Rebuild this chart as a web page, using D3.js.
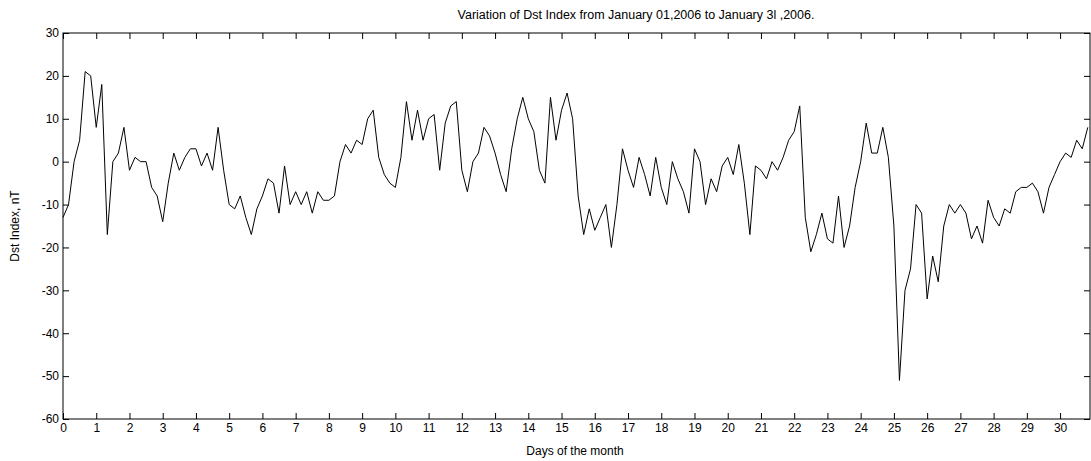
<!DOCTYPE html>
<html><head><meta charset="utf-8">
<script src="https://cdn.jsdelivr.net/npm/d3@7"></script>
<style>
body{margin:0;background:#fff;}
text{font-family:"Liberation Sans",Arial,sans-serif;font-size:11px;fill:#000;}
</style></head>
<body><div id="chart"></div>
<script>
// Dst index, 4-hourly samples (6 per day)
var dst = [
 -13,-10,0,5,21,20,
 8,18,-17,0,2,8,
 -2,1,0,0,-6,-8,
 -14,-5,2,-2,1,3,
 3,-1,2,-2,8,-2,
 -10,-11,-8,-13,-17,-11,
 -8,-4,-5,-12,-1,-10,
 -7,-10,-7,-12,-7,-9,
 -9,-8,0,4,2,5,
 4,10,12,1,-3,-5,
 -6,1,14,5,12,5,
 10,11,-2,9,13,14,
 -2,-7,0,2,8,6,
 2,-3,-7,3,10,15,
 10,7,-2,-5,15,5,
 12,16,10,-8,-17,-11,
 -16,-13,-10,-20,-10,3,
 -2,-6,1,-3,-8,1,
 -6,-10,0,-4,-7,-12,
 3,0,-10,-4,-7,-1,
 1,-3,4,-5,-17,-1,
 -2,-4,0,-2,1,5,
 7,13,-13,-21,-17,-12,
 -18,-19,-8,-20,-15,-6,
 0,9,2,2,8,1,
 -15,-51,-30,-25,-10,-12,
 -32,-22,-28,-15,-10,-12,
 -10,-12,-18,-15,-19,-9,
 -13,-15,-11,-12,-7,-6,
 -6,-5,-7,-12,-6,-3,
 0,2,1,5,3,8
];
var samplesPerDay = 6;
var xTicks = d3.range(0, 31);
var yTicks = d3.range(-60, 31, 10);
var title = "Variation of Dst Index from January 01,2006 to January 3l ,2006.";

var W = 1091, H = 461;
var m = {left: 63, right: 1, top: 33, bottom: 42};
var w = W - m.left - m.right, h = H - m.top - m.bottom;

var x = d3.scaleLinear().domain([0, 30.9]).range([0, w]);
var y = d3.scaleLinear().domain([-60, 30]).range([h, 0]);

var svg = d3.select("#chart").append("svg").attr("width", W).attr("height", H);
var g = svg.append("g").attr("transform", "translate(" + m.left + "," + m.top + ")");

g.append("rect").attr("width", w).attr("height", h).attr("fill", "none").attr("stroke", "#000");

var line = d3.line()
    .x(function(d, i) { return x(i / samplesPerDay); })
    .y(function(d) { return y(d); });
g.append("path").datum(dst).attr("d", line)
    .attr("fill", "none").attr("stroke", "#000").attr("stroke-width", 1);

function styleAxis(sel) {
    sel.select(".domain").remove();
    sel.selectAll("line").attr("stroke", "#000");
}
g.append("g").attr("transform", "translate(0," + h + ")")
    .call(d3.axisBottom(x).tickValues(xTicks).tickSize(-6).tickPadding(4).tickFormat(d3.format("d")))
    .call(styleAxis).selectAll("text").style("font-size", "12px");
g.append("g")
    .call(d3.axisTop(x).tickValues(xTicks).tickSize(-6).tickFormat(""))
    .call(styleAxis);
g.append("g")
    .call(d3.axisLeft(y).tickValues(yTicks).tickSize(-6).tickPadding(4).tickFormat(function(d) { return String(d); }))
    .call(styleAxis).selectAll("text").style("font-size", "12px");
g.append("g").attr("transform", "translate(" + w + ",0)")
    .call(d3.axisRight(y).tickValues(yTicks).tickSize(-6).tickFormat(""))
    .call(styleAxis);

svg.append("text").attr("x", 636).attr("y", 19).attr("text-anchor", "middle").style("font-size", "12.5px").text(title);
svg.append("text").attr("x", 575).attr("y", 455).attr("text-anchor", "middle").style("font-size", "12px").text("Days of the month");
svg.append("text").attr("transform", "translate(19," + (m.top + h / 2) + ") rotate(-90)")
    .attr("text-anchor", "middle").style("font-size", "12px").text("Dst Index, nT");
</script></body></html>
